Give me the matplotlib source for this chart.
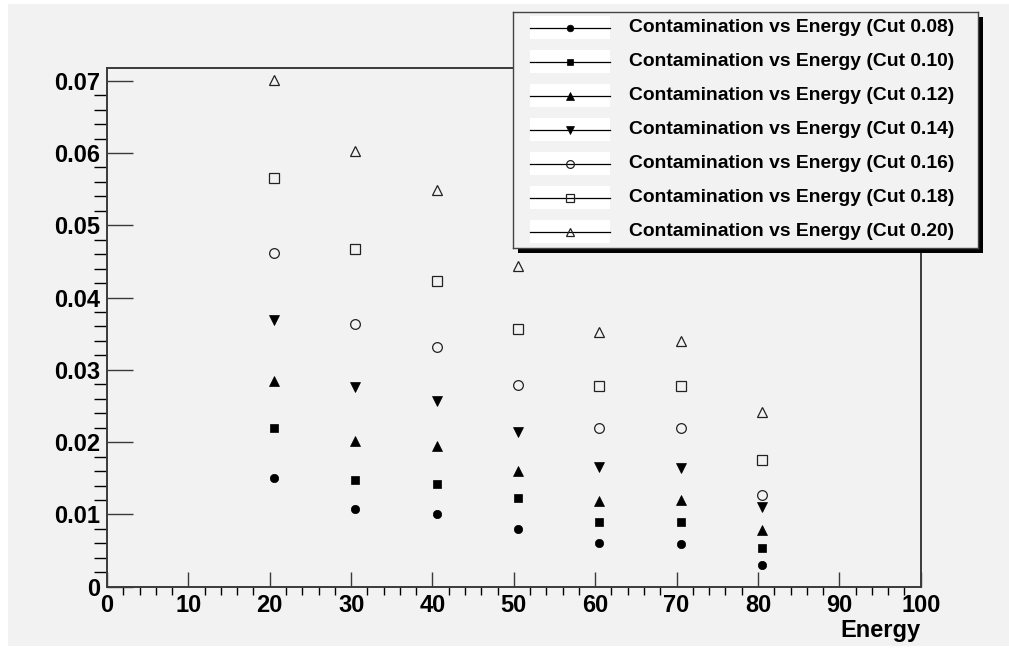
import matplotlib
matplotlib.use("Agg")
import matplotlib.pyplot as plt
from matplotlib.patches import Rectangle
from matplotlib.ticker import MultipleLocator, FuncFormatter

# contamination vs beam energy for each cut value
energy = [20.5, 30.5, 40.5, 50.5, 60.5, 70.5, 80.5]
cuts = ["0.08", "0.10", "0.12", "0.14", "0.16", "0.18", "0.20"]
cont_008 = [0.0151, 0.0108, 0.0101, 0.0080, 0.0061, 0.0059, 0.0030]
cont_010 = [0.0219, 0.0147, 0.0142, 0.0123, 0.0089, 0.0089, 0.0054]
cont_012 = [0.0285, 0.0202, 0.0194, 0.0160, 0.0118, 0.0120, 0.0078]
cont_014 = [0.0369, 0.0276, 0.0257, 0.0214, 0.0165, 0.0164, 0.0110]
cont_016 = [0.0462, 0.0363, 0.0332, 0.0279, 0.0220, 0.0219, 0.0127]
cont_018 = [0.0565, 0.0467, 0.0423, 0.0356, 0.0278, 0.0278, 0.0175]
cont_020 = [0.0701, 0.0603, 0.0549, 0.0443, 0.0352, 0.0340, 0.0241]
series = [cont_008, cont_010, cont_012, cont_014, cont_016, cont_018, cont_020]

# ROOT-like marker styles: full circle, square, triangles, then open ones
styles = [
    dict(marker="o", ms=6.0, mfc="black", mec="black", mew=0.5),
    dict(marker="s", ms=6.0, mfc="black", mec="black", mew=0.5),
    dict(marker="^", ms=6.5, mfc="black", mec="black", mew=0.5),
    dict(marker="v", ms=6.5, mfc="black", mec="black", mew=0.5),
    dict(marker="o", ms=7.0, mfc="none", mec="#222222", mew=0.9),
    dict(marker="s", ms=7.0, mfc="none", mec="#222222", mew=0.9),
    dict(marker="^", ms=7.5, mfc="none", mec="#222222", mew=0.9),
]

plt.rcParams["font.family"] = ["Liberation Sans", "DejaVu Sans"]
plt.rcParams["font.weight"] = "bold"

W, H = 1009, 648
bg = "#f2f2f2"
fig = plt.figure(figsize=(W / 100, H / 100), dpi=100, facecolor="white")
fig.add_artist(Rectangle((8 / W, 2 / H), 1 - 8 / W, 1 - 6 / H,
                         transform=fig.transFigure, facecolor=bg,
                         edgecolor="none", zorder=-1))

ax = fig.add_axes([107 / W, 61.3 / H, 813.7 / W, 519 / H], zorder=0)
ax.set_facecolor(bg)
for y, st in zip(series, styles):
    ax.plot(energy, y, linestyle="none", **st)

ax.set_xlim(0, 100)
ax.set_ylim(0, 0.0718)
ax.xaxis.set_major_locator(MultipleLocator(10))
ax.xaxis.set_minor_locator(MultipleLocator(2))
ax.yaxis.set_major_locator(MultipleLocator(0.01))
ax.yaxis.set_minor_locator(MultipleLocator(0.002))
ax.yaxis.set_major_formatter(FuncFormatter(lambda v, p: "0" if abs(v) < 1e-9 else "%g" % v))

for s in ax.spines.values():
    s.set_color("#3a3a3a")
    s.set_linewidth(1.4)
ax.tick_params(direction="in", colors="#3a3a3a", labelcolor="black",
               labelsize=17, top=False, right=False)
ax.tick_params(axis="x", which="major", length=10.8, width=1.0, pad=5.5)
ax.tick_params(axis="x", which="minor", length=5.5, width=1.0)
ax.tick_params(axis="y", which="major", length=18.5, width=1.0, pad=5)
ax.tick_params(axis="y", which="minor", length=9.1, width=1.0)
for lab in ax.get_xticklabels() + ax.get_yticklabels():
    lab.set_fontweight("bold")

ax.set_xlabel("Energy", loc="right", fontsize=17, fontweight="bold")
ax.xaxis.set_label_coords(1.0, -0.062)

# legend box with a drop shadow, drawn by hand
lx, ly, lw, lh = 513.3 / W, 399.7 / H, 465 / W, 236.6 / H
fig.add_artist(Rectangle((lx + 5 / W, ly - 5 / H), lw, lh,
                         transform=fig.transFigure, facecolor="black",
                         edgecolor="none", zorder=2))
leg = fig.add_axes([lx, ly, lw, lh], zorder=3)
leg.set_facecolor(bg)
leg.set_xlim(0, 1)
leg.set_ylim(0, 1)
leg.set_xticks([])
leg.set_yticks([])
for s in leg.spines.values():
    s.set_color("#444444")
    s.set_linewidth(1.0)

row0, step = 0.932, 0.1435
for i, (cut, st) in enumerate(zip(cuts, styles)):
    yc = row0 - i * step
    small = dict(st, ms=st["ms"] * 0.8)
    leg.add_patch(Rectangle((0.036, yc - 0.048), 0.173, 0.096,
                            facecolor="white", edgecolor="none"))
    leg.plot([0.036, 0.209], [yc, yc], color="black", lw=0.9)
    leg.plot([0.122], [yc], linestyle="none", **small)
    leg.text(0.249, yc, "Contamination vs Energy (Cut %s)" % cut,
             fontsize=13.9, fontweight="bold", va="center", ha="left")

fig.savefig("out.png", dpi=100, facecolor=fig.get_facecolor())
